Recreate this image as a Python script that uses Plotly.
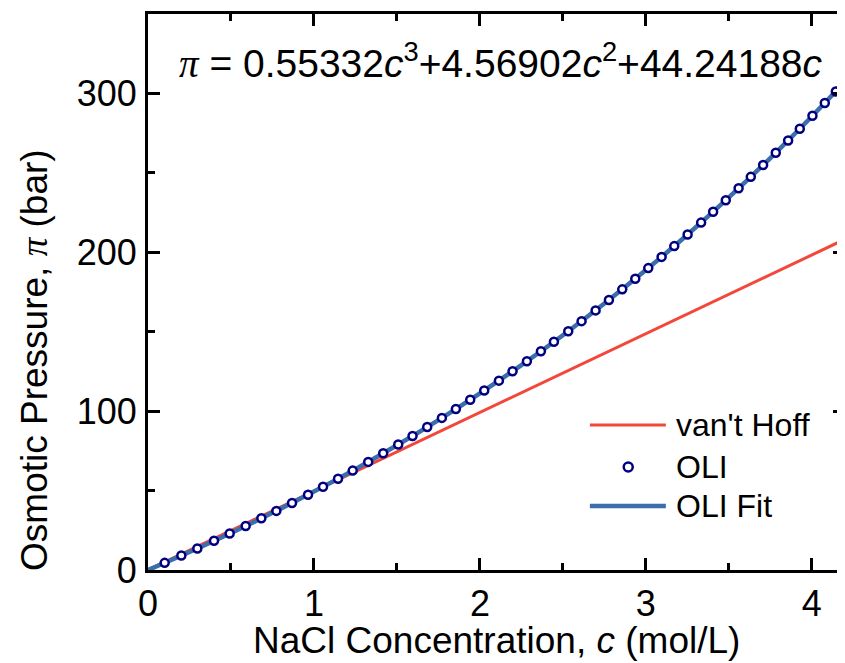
import plotly.graph_objects as go

# OLI data
oli_c = [0.1005, 0.2009, 0.2973, 0.3978, 0.4922, 0.5886, 0.6831, 0.7735, 0.8679, 0.9643,
         1.0547, 1.1451, 1.2335, 1.3269, 1.4173, 1.5078, 1.5941, 1.6825, 1.7709, 1.8553,
         1.9417, 2.0261, 2.1145, 2.1968, 2.2832, 2.3676, 2.4460, 2.5323, 2.6127, 2.6971,
         2.7774, 2.8578, 2.9362, 3.0145, 3.0949, 3.1712, 3.2516, 3.3329, 3.4053, 3.4816,
         3.5589, 3.6323, 3.7066, 3.7829, 3.8573, 3.9276, 4.0039, 4.0783, 4.1446, 4.2028]
oli_pi = [4.49, 9.08, 13.57, 18.36, 22.95, 27.74, 32.53, 37.21, 42.20, 47.41,
          52.40, 57.49, 62.56, 68.04, 73.46, 78.99, 84.38, 90.01, 95.75, 101.34,
          107.18, 112.99, 119.21, 125.11, 131.42, 137.70, 143.64, 150.32, 156.65, 163.42,
          169.98, 176.66, 183.30, 190.04, 197.09, 203.89, 211.18, 218.69, 225.48, 232.77,
          240.27, 247.49, 254.94, 262.70, 270.39, 277.77, 285.90, 293.95, 301.24, 307.72]

# OLI fit curve samples
fit_c = [0, 0.25, 0.5, 0.75, 1.0, 1.25, 1.5, 1.75, 2.0, 2.25, 2.5, 2.75, 3.0, 3.25, 3.5, 3.75, 4.0, 4.25]
fit_pi = [0, 11.35, 23.33, 35.98, 49.36, 63.52, 78.51, 94.38, 111.19, 128.98, 147.81,
          167.73, 188.79, 211.04, 234.54, 259.34, 285.48, 313.03]

# van't Hoff line
vh_c = [0, 1, 2, 3, 4, 4.25]
vh_pi = [0, 49.6, 99.2, 148.7, 198.3, 210.7]

x_ticks = [0, 1, 2, 3, 4]
y_ticks = [0, 100, 200, 300]

RED = "#f2473a"
BLUE = "#3b6eaa"
NAVY = "#000080"
FONT = "Arial, Liberation Sans, sans-serif"

fig = go.Figure()
fig.add_trace(go.Scatter(x=vh_c, y=vh_pi, mode="lines", line=dict(color=RED, width=3),
                         name="van't Hoff", showlegend=False))
fig.add_trace(go.Scatter(x=fit_c, y=fit_pi, mode="lines", line=dict(color=BLUE, width=4.5, shape="spline"),
                         name="OLI Fit", showlegend=False))
fig.add_trace(go.Scatter(x=oli_c, y=oli_pi, mode="markers",
                         marker=dict(symbol="circle", size=8, color="white",
                                     line=dict(color=NAVY, width=2.5)),
                         name="OLI", showlegend=False))
# invisible trace to drive a right-side y axis with ticks only
fig.add_trace(go.Scatter(x=[0], y=[0], yaxis="y2", mode="markers",
                         marker=dict(opacity=0), showlegend=False, hoverinfo="skip"))

axis_common = dict(showgrid=False, zeroline=False, showline=True, linecolor="black", linewidth=3,
                   ticks="inside", ticklen=12, tickwidth=3, tickcolor="black",
                   tickfont=dict(family=FONT, size=36, color="black"))

# page has an 8px body margin: figure is 837x655 so that it fills the 845x663 window
fig.update_layout(
    width=837, height=655,
    margin=dict(l=140, r=0, t=6, b=93),
    paper_bgcolor="white", plot_bgcolor="white",
    xaxis=dict(range=[0, 4.2], tickvals=x_ticks, mirror="ticks",
               minor=dict(dtick=0.5, ticks="inside", ticklen=7, tickwidth=3, tickcolor="black"),
               **axis_common),
    yaxis=dict(range=[0, 350], tickvals=y_ticks, mirror=False, ticklabelstandoff=1,
               minor=dict(dtick=50, ticks="inside", ticklen=7, tickwidth=3, tickcolor="black"),
               **axis_common),
    yaxis2=dict(range=[0, 350], overlaying="y", side="right", anchor="x", showline=False,
                showgrid=False, zeroline=False, showticklabels=False, tickvals=y_ticks,
                ticks="inside", ticklen=12, tickwidth=3, tickcolor="black",
                minor=dict(dtick=50, ticks="inside", ticklen=7, tickwidth=3, tickcolor="black")),
)

# axis titles
fig.add_annotation(xref="paper", yref="paper", x=0.5, y=-0.126, yanchor="middle", xanchor="center",
                   text="NaCl Concentration, <i>c</i> (mol/L)", showarrow=False,
                   font=dict(family=FONT, size=37, color="black"))
fig.add_annotation(xref="paper", yref="paper", x=-0.162, y=0.378, xanchor="center", yanchor="middle",
                   textangle=-90,
                   text="Osmotic Pressure, <span style='font-family:Liberation Serif'><i>π</i></span> (bar)",
                   showarrow=False, font=dict(family=FONT, size=37, color="black"))

# equation
fig.add_annotation(xref="paper", yref="paper", x=0.041, y=0.917, xanchor="left", yanchor="middle",
                   text="<span style='font-family:Liberation Serif'><i>π</i></span> = 0.55332<i>c</i><sup>3</sup>+4.56902<i>c</i><sup>2</sup>+44.24188<i>c</i>",
                   showarrow=False, font=dict(family=FONT, size=39, color="black"))

# manual legend
leg_x0, leg_x1, leg_xm, leg_tx = 0.634, 0.743, 0.689, 0.754
rows = [(0.2608, "van't Hoff"), (0.1853, "OLI"), (0.1151, "OLI Fit")]
fig.add_shape(type="line", xref="paper", yref="paper", x0=leg_x0, x1=leg_x1, y0=rows[0][0], y1=rows[0][0],
              line=dict(color=RED, width=3))
fig.add_shape(type="line", xref="paper", yref="paper", x0=leg_x0, x1=leg_x1, y0=rows[2][0], y1=rows[2][0],
              line=dict(color=BLUE, width=4.5))
fig.add_shape(type="circle", xref="paper", yref="paper", xsizemode="pixel", ysizemode="pixel",
              xanchor=leg_xm, yanchor=rows[1][0], x0=-4.5, x1=4.5, y0=-4.5, y1=4.5,
              line=dict(color=NAVY, width=2.5), fillcolor="white")
for yv, label in rows:
    fig.add_annotation(xref="paper", yref="paper", x=leg_tx, y=yv, xanchor="left", yanchor="middle",
                       text=label, showarrow=False, font=dict(family=FONT, size=32, color="black"))

fig.write_html("out.html")
